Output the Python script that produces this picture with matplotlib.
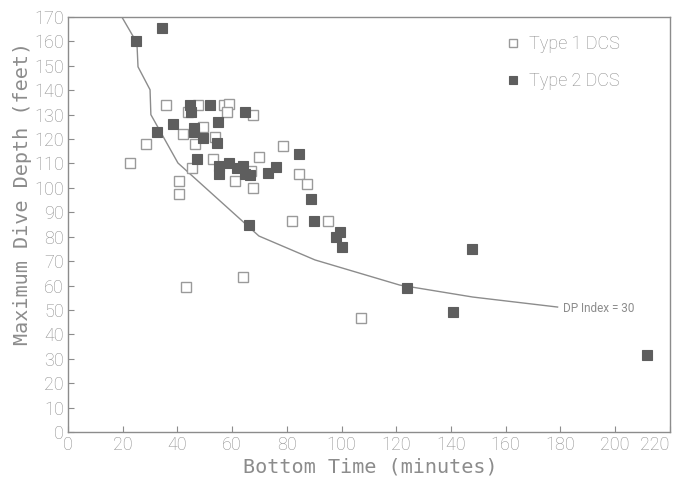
import matplotlib
matplotlib.use("Agg")
import matplotlib.pyplot as plt

# Type 1 DCS cases: bottom time (min), max depth (ft)
type1_time = [22.7, 28.5, 35.8, 40.6, 40.6, 42, 43, 44, 45.3, 46.5, 47.5, 49.3,
              53, 53.7, 57, 59, 58, 61, 64, 67, 67.6, 67.6, 70, 78.6, 82, 84.4,
              87.4, 95, 107]
type1_depth = [110, 118, 134, 103, 97.5, 122, 59.5, 131, 108, 118, 134, 125,
               112, 121, 134, 134.5, 131, 103, 63.5, 107, 100, 130, 112.7, 117,
               86.5, 105.7, 101.6, 86.5, 46.7]

# Type 2 DCS cases
type2_time = [25, 34.5, 32.5, 38.5, 44.5, 45, 46, 46.2, 47, 49.5, 52, 54.5, 55,
              55.2, 55.2, 59, 61.8, 64, 64.7, 66.5, 64.7, 66, 73, 76, 84.4, 89,
              90, 99.4, 98, 100, 124, 140.7, 147.7, 211.6]
type2_depth = [160, 165.5, 123, 126, 134, 131, 124.5, 122.8, 112, 120.5, 134,
               118.5, 127, 109, 105.7, 110, 108.2, 109, 105.7, 105.3, 131, 85,
               106, 108.6, 114, 95.5, 86.5, 82, 80, 76, 59, 49, 75, 31.6]

# DP index = 30 limit curve
dp_time = [19.7, 25.2, 25.6, 30, 30.3, 40.2, 69.8, 90.3, 121.3, 148, 179]
dp_depth = [170, 159.4, 149.6, 140.2, 130, 110.2, 80.3, 70.5, 60.2, 55.3, 51.2]

GRAY = "#8c8c8c"
DARK = "#5e5e5e"
NARROW = ["Roboto", "DejaVu Sans"]

fig = plt.figure(figsize=(6.82, 4.79), dpi=100)
ax = fig.add_axes([0.0997, 0.098, 0.8823, 0.8665])

ax.plot(dp_time, dp_depth, color=GRAY, lw=1.0, zorder=1)
ax.text(181, 50.6, "DP Index = 30", color=GRAY, fontsize=8.5,
        family=NARROW, va="center", ha="left")

ax.plot(type1_time, type1_depth, ls="none", marker="s", ms=7.2,
        mfc="white", mec="#9a9a9a", mew=1.0, label="Type 1 DCS", zorder=2)
ax.plot(type2_time, type2_depth, ls="none", marker="s", ms=7.2,
        mfc=DARK, mec=DARK, mew=0.8, label="Type 2 DCS", zorder=3)

ax.set_xlim(0, 220)
ax.set_ylim(0, 170)
ax.set_xticks(range(0, 221, 20))
ax.set_yticks(range(0, 171, 10))

for side in ax.spines.values():
    side.set_color(GRAY)
    side.set_linewidth(1.0)
ax.tick_params(direction="in", length=4, width=0.8, color=GRAY,
               labelcolor=GRAY, labelsize=13, pad=3)
for lab in ax.get_xticklabels() + ax.get_yticklabels():
    lab.set_family(NARROW)
    lab.set_fontweight("light")
# keep the last x label inside the figure
ax.get_xticklabels()[-1].set_horizontalalignment("right")

ax.set_xlabel("Bottom Time (minutes)", family="DejaVu Sans Mono",
              fontsize=14.5, color=GRAY)
ax.set_ylabel("Maximum Dive Depth (feet)", family="DejaVu Sans Mono",
              fontsize=14.5, color=GRAY)
ax.xaxis.set_label_coords(0.502, -0.084)
ax.yaxis.set_label_coords(-0.075, 0.576)
ax.xaxis.label.set_va("center")
ax.yaxis.label.set_va("center")

leg = ax.legend(loc="upper left", bbox_to_anchor=(0.715, 0.973), frameon=False,
                borderaxespad=0, markerscale=0.8, handlelength=0.8,
                handletextpad=0.5, labelspacing=1.05,
                prop={"family": NARROW, "size": 13, "weight": "light"})
for t in leg.get_texts():
    t.set_color(GRAY)

fig.savefig("out.png", dpi=100)
